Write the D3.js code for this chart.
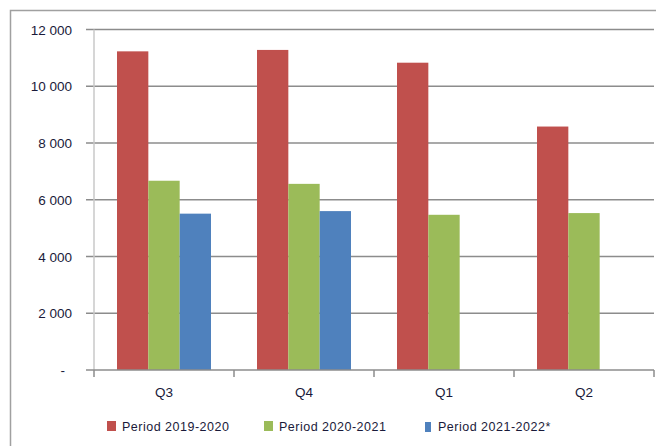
<!DOCTYPE html>
<html>
<head>
<meta charset="utf-8">
<script src="https://d3js.org/d3.v7.min.js"></script>
<style>
    body { margin: 0; padding: 0; background: white; }
    svg { display: block; }
    text { font-family: 'Liberation Sans', sans-serif; fill: #1a1a3a; }
</style>
</head>
<body>
<svg width="656" height="446"></svg>
<script>
    // quarters on the x axis
    var quarters = ["Q3", "Q4", "Q1", "Q2"];
    var seriesNames = ["Period 2019-2020", "Period 2020-2021", "Period 2021-2022*"];
    var p2019 = [11230, 11280, 10830, 8580];
    var p2020 = [6670, 6560, 5470, 5530];
    var p2021 = [5510, 5600, null, null];
    var yTicks = [0, 2000, 4000, 6000, 8000, 10000, 12000];
    var colors = ["#C0504D", "#9BBB59", "#4F81BD"];

    var series = [p2019, p2020, p2021];

    var svg = d3.select("svg");
    // note: "top" is taken by window.top, so use plot* names
    var plotLeft = 94, plotRight = 654, plotTop = 29.5, plotBottom = 370;

    // outer chart frame (runs off the picture on right and bottom)
    svg.append("rect")
        .attr("x", 10.5).attr("y", 10.5)
        .attr("width", 700).attr("height", 500)
        .attr("fill", "none")
        .attr("stroke", "#a0a0a0")
        .attr("stroke-width", 1.5);

    var xOuter = d3.scaleBand().domain(quarters).range([plotLeft, plotRight]);
    var y = d3.scaleLinear().domain([0, 12000]).range([plotBottom, plotTop]);
    var xs = d3.scaleBand().domain(d3.range(series.length)).range([0, 94]);

    // gridlines
    svg.append("g")
        .selectAll("line")
        .data(yTicks.filter(function (d) { return d > 0; }))
        .enter().append("line")
        .attr("x1", plotLeft - 8).attr("x2", plotRight)
        .attr("y1", function (d) { return y(d); })
        .attr("y2", function (d) { return y(d); })
        .attr("stroke", "#8c8c8c")
        .attr("stroke-width", 1.5);

    // y axis line
    svg.append("line")
        .attr("x1", plotLeft).attr("x2", plotLeft)
        .attr("y1", plotTop).attr("y2", plotBottom)
        .attr("stroke", "#c8c8c8").attr("stroke-width", 1.5);

    // y labels (zero shown as a dash, a bit left of the others)
    svg.append("g")
        .selectAll("text")
        .data(yTicks)
        .enter().append("text")
        .attr("x", function (d) { return d === 0 ? 65 : 72; })
        .attr("y", function (d) { return y(d) + 5; })
        .attr("text-anchor", "end")
        .style("font-size", "13.5px")
        .text(function (d) {
            return d === 0 ? "-" : d3.format(",")(d).replace(",", " ");
        });

    // bars
    var groups = svg.append("g")
        .selectAll("g")
        .data(quarters)
        .enter().append("g")
        .attr("transform", function (d) {
            return "translate(" + (xOuter(d) + (xOuter.bandwidth() - 94) / 2) + ",0)";
        });

    groups.selectAll("rect")
        .data(function (d, i) {
            return series.map(function (s, k) { return { k: k, v: s[i] }; })
                .filter(function (o) { return o.v != null; });
        })
        .enter().append("rect")
        .attr("x", function (d) { return xs(d.k); })
        .attr("width", xs.bandwidth())
        .attr("y", function (d) { return y(d.v); })
        .attr("height", function (d) { return plotBottom - y(d.v); })
        .attr("fill", function (d) { return colors[d.k]; });

    // x axis line + ticks at category boundaries
    svg.append("line")
        .attr("x1", plotLeft - 8).attr("x2", plotRight)
        .attr("y1", plotBottom).attr("y2", plotBottom)
        .attr("stroke", "#8c8c8c").attr("stroke-width", 1.5);

    var bounds = quarters.map(function (q) { return xOuter(q); }).concat([plotRight]);
    svg.append("g")
        .selectAll("line")
        .data(bounds)
        .enter().append("line")
        .attr("x1", function (d) { return d; })
        .attr("x2", function (d) { return d; })
        .attr("y1", plotBottom).attr("y2", plotBottom + 7)
        .attr("stroke", "#8c8c8c").attr("stroke-width", 1.5);

    svg.append("g")
        .selectAll("text")
        .data(quarters)
        .enter().append("text")
        .attr("x", function (d) { return xOuter(d) + xOuter.bandwidth() / 2; })
        .attr("y", 397)
        .attr("text-anchor", "middle")
        .style("font-size", "13.5px")
        .text(function (d) { return d; });

    // legend
    var legendX = [107, 264, 425];
    var legend = svg.append("g")
        .selectAll("g")
        .data(seriesNames)
        .enter().append("g")
        .attr("transform", function (d, i) { return "translate(" + legendX[i] + ",421)"; });

    legend.append("rect")
        .attr("width", function (d, i) { return i === 2 ? 6 : 9; })
        .attr("height", 10)
        .attr("y", function (d, i) { return i === 2 ? 1 : 0; })
        .attr("fill", function (d, i) { return colors[i]; });

    legend.append("text")
        .attr("x", function (d, i) { return i === 2 ? 13 : 15; })
        .attr("y", 10)
        .style("font-size", "12.5px")
        .style("letter-spacing", "0.5px")
        .text(function (d) { return d; });
</script>
</body>
</html>
